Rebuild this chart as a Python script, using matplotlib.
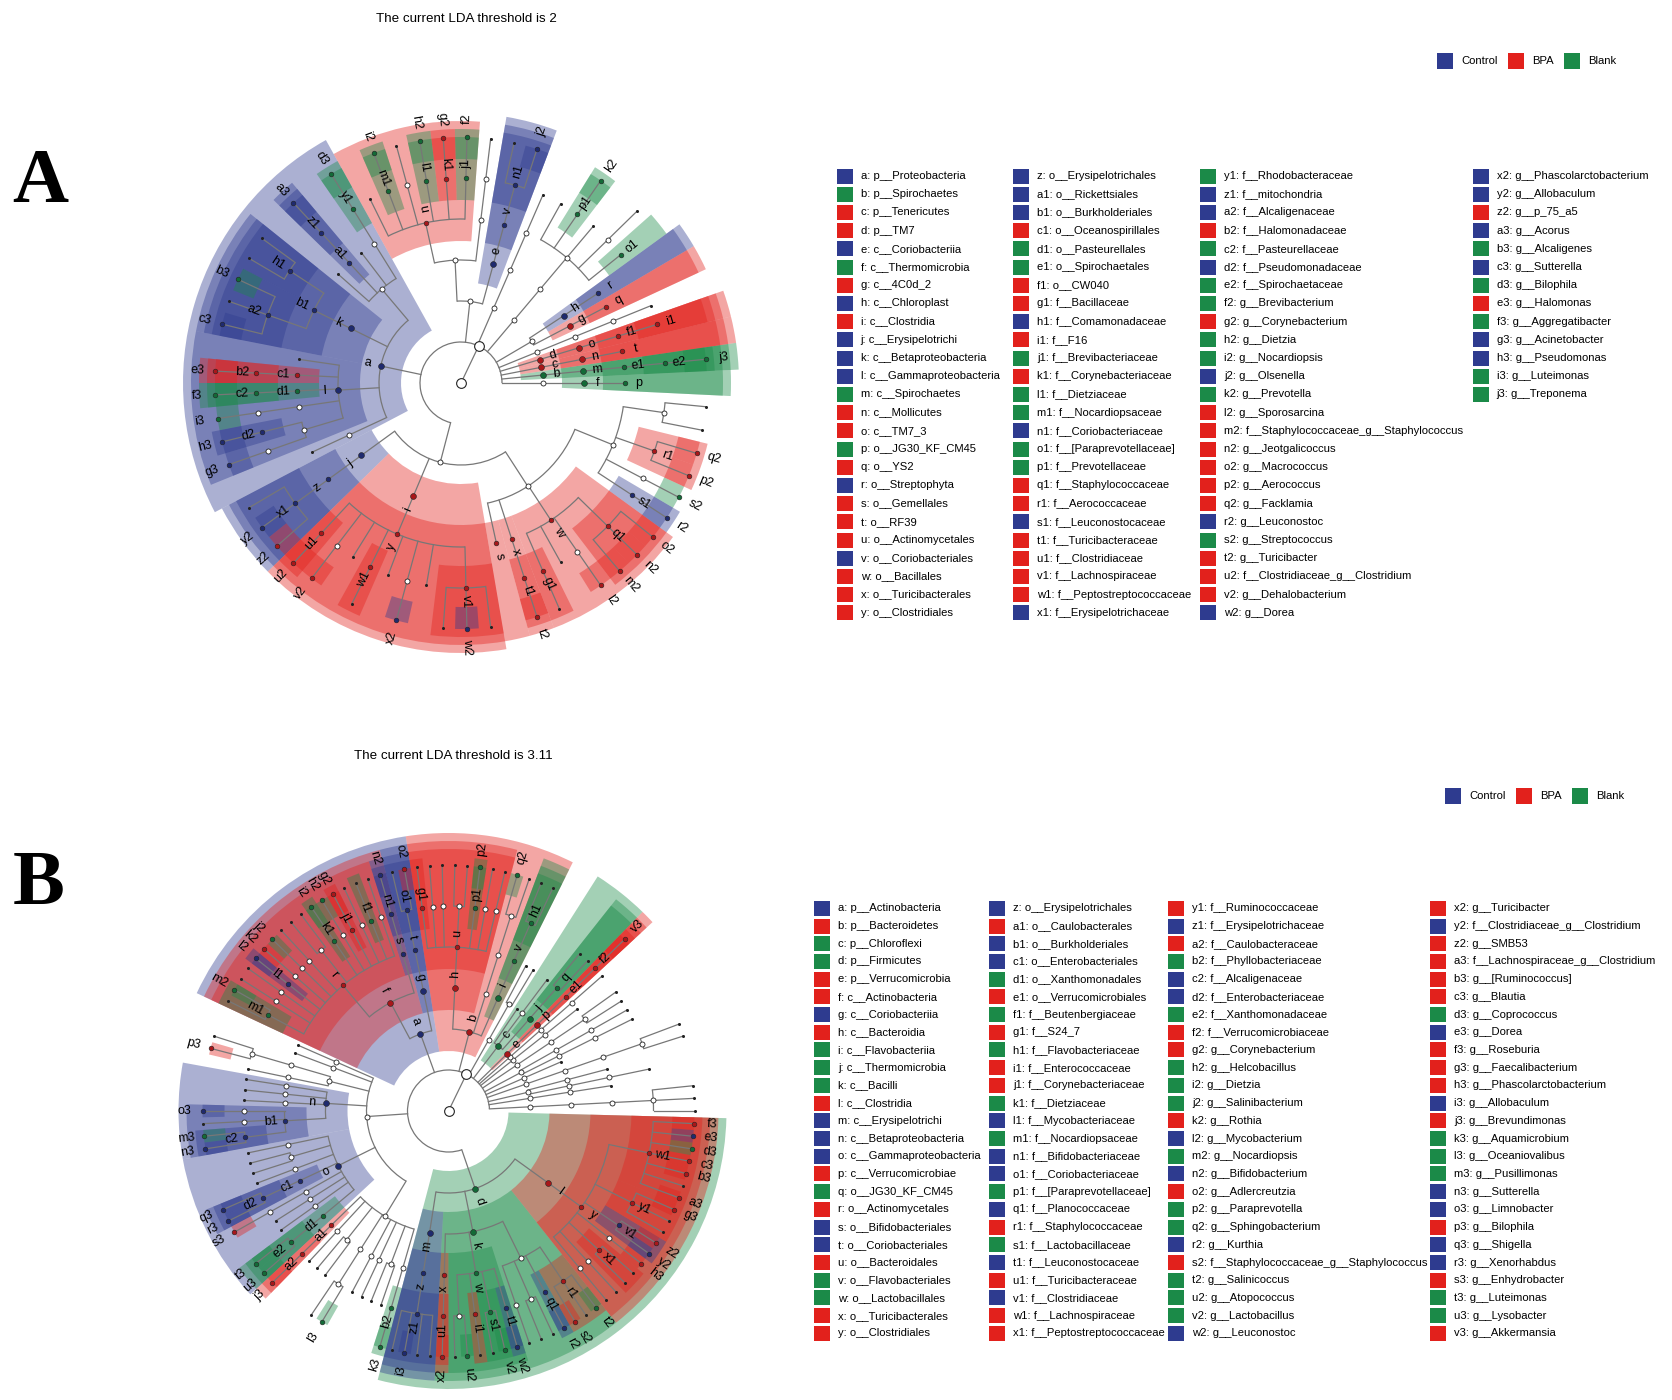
import re
import numpy as np
import matplotlib
matplotlib.use('Agg')
import matplotlib.pyplot as plt
from matplotlib.patches import Wedge, Arc, Rectangle

plt.rcParams['font.family'] = ['Liberation Sans', 'DejaVu Sans']

group_colors = {'C': '#2e3b8f', 'B': '#e2211c', 'G': '#1b8a48'}
node_colors = {'C': '#1f2a6e', 'B': '#a8171a', 'G': '#136a37'}
group_order = ['C', 'B', 'G']
group_names = ['Control', 'BPA', 'Blank']
LINE = '#777777'

# ---------------- panel A ----------------
title_a = 'The current LDA threshold is 2'
legend_a = [
    'a: p__Proteobacteria', 'b: p__Spirochaetes', 'c: p__Tenericutes', 'd: p__TM7',
    'e: c__Coriobacteriia', 'f: c__Thermomicrobia', 'g: c__4C0d_2', 'h: c__Chloroplast',
    'i: c__Clostridia', 'j: c__Erysipelotrichi', 'k: c__Betaproteobacteria',
    'l: c__Gammaproteobacteria', 'm: c__Spirochaetes', 'n: c__Mollicutes', 'o: c__TM7_3',
    'p: o__JG30_KF_CM45', 'q: o__YS2', 'r: o__Streptophyta', 's: o__Gemellales',
    't: o__RF39', 'u: o__Actinomycetales', 'v: o__Coriobacteriales', 'w: o__Bacillales',
    'x: o__Turicibacterales', 'y: o__Clostridiales',
    'z: o__Erysipelotrichales', 'a1: o__Rickettsiales', 'b1: o__Burkholderiales',
    'c1: o__Oceanospirillales', 'd1: o__Pasteurellales', 'e1: o__Spirochaetales',
    'f1: o__CW040', 'g1: f__Bacillaceae', 'h1: f__Comamonadaceae', 'i1: f__F16',
    'j1: f__Brevibacteriaceae', 'k1: f__Corynebacteriaceae', 'l1: f__Dietziaceae',
    'm1: f__Nocardiopsaceae', 'n1: f__Coriobacteriaceae', 'o1: f__[Paraprevotellaceae]',
    'p1: f__Prevotellaceae', 'q1: f__Staphylococcaceae', 'r1: f__Aerococcaceae',
    's1: f__Leuconostocaceae', 't1: f__Turicibacteraceae', 'u1: f__Clostridiaceae',
    'v1: f__Lachnospiraceae', 'w1: f__Peptostreptococcaceae', 'x1: f__Erysipelotrichaceae',
    'y1: f__Rhodobacteraceae', 'z1: f__mitochondria', 'a2: f__Alcaligenaceae',
    'b2: f__Halomonadaceae', 'c2: f__Pasteurellaceae', 'd2: f__Pseudomonadaceae',
    'e2: f__Spirochaetaceae', 'f2: g__Brevibacterium', 'g2: g__Corynebacterium',
    'h2: g__Dietzia', 'i2: g__Nocardiopsis', 'j2: g__Olsenella', 'k2: g__Prevotella',
    'l2: g__Sporosarcina', 'm2: f__Staphylococcaceae_g__Staphylococcus',
    'n2: g__Jeotgalicoccus', 'o2: g__Macrococcus', 'p2: g__Aerococcus', 'q2: g__Facklamia',
    'r2: g__Leuconostoc', 's2: g__Streptococcus', 't2: g__Turicibacter',
    'u2: f__Clostridiaceae_g__Clostridium', 'v2: g__Dehalobacterium', 'w2: g__Dorea',
    'x2: g__Phascolarctobacterium', 'y2: g__Allobaculum', 'z2: g__p_75_a5', 'a3: g__Acorus',
    'b3: g__Alcaligenes', 'c3: g__Sutterella', 'd3: g__Bilophila', 'e3: g__Halomonas',
    'f3: g__Aggregatibacter', 'g3: g__Acinetobacter', 'h3: g__Pseudomonas',
    'i3: g__Luteimonas', 'j3: g__Treponema',
]
groups_a = ('CGBBCGBCBCCCGBBGBCBBBCBBB' 'CCCBGGBBCBGBGGCGGBBCBBBBC'
            'GCCBGCGGBGGCGBBBBBBCGBBBC' 'CCBCGCGBGCCGG')
cols_a = [25, 25, 25, 13]
# tree, one string per phylum, counter-clockwise from the east
# label = biomarker clade, * = other clade, . = other leaf
tree_a = [
    '*(f(p))',
    'b(m(e1(e2(j3))))',
    'c(n(t))',
    'd(o(f1(i1)))',
    '*(*(*(.)))',
    '*(g(q),h(r))',
    '*(*(*(o1,*(.),.,p1(k2),.)))',
    '*(*(*(.)))',
    '*(e(v(n1(j2,.))),*(*(*(.)),u(j1(f2),k1(g2),l1(h2),*(.),m1(i2),.)))',
    'a(*(*(y1(d3)),.,a1(z1(a3)),.),k(b1(h1(.,.),a2(b3,.,c3))),'
    'l(.,c1(b2(e3)),d1(c2(f3)),*(*(i3)),*(d2(h3),*(g3))),*(.))',
    '*(j(z(x1(.,y2,z2))),i(y(u1(u2),*(v2),.,w1(.),.,*(x2),.,v1(.,w2,.))),'
    '*(s,x(t1(t2)),w(g1(.),.,*(l2),q1(m2,n2,o2)),*(s1(r2),*(s2),r1(p2,q2),*(.,.))))',
]

# ---------------- panel B ----------------
title_b = 'The current LDA threshold is 3.11'
legend_b = [
    'a: p__Actinobacteria', 'b: p__Bacteroidetes', 'c: p__Chloroflexi', 'd: p__Firmicutes',
    'e: p__Verrucomicrobia', 'f: c__Actinobacteria', 'g: c__Coriobacteriia',
    'h: c__Bacteroidia', 'i: c__Flavobacteriia', 'j: c__Thermomicrobia', 'k: c__Bacilli',
    'l: c__Clostridia', 'm: c__Erysipelotrichi', 'n: c__Betaproteobacteria',
    'o: c__Gammaproteobacteria', 'p: c__Verrucomicrobiae', 'q: o__JG30_KF_CM45',
    'r: o__Actinomycetales', 's: o__Bifidobacteriales', 't: o__Coriobacteriales',
    'u: o__Bacteroidales', 'v: o__Flavobacteriales', 'w: o__Lactobacillales',
    'x: o__Turicibacterales', 'y: o__Clostridiales',
    'z: o__Erysipelotrichales', 'a1: o__Caulobacterales', 'b1: o__Burkholderiales',
    'c1: o__Enterobacteriales', 'd1: o__Xanthomonadales', 'e1: o__Verrucomicrobiales',
    'f1: f__Beutenbergiaceae', 'g1: f__S24_7', 'h1: f__Flavobacteriaceae',
    'i1: f__Enterococcaceae', 'j1: f__Corynebacteriaceae', 'k1: f__Dietziaceae',
    'l1: f__Mycobacteriaceae', 'm1: f__Nocardiopsaceae', 'n1: f__Bifidobacteriaceae',
    'o1: f__Coriobacteriaceae', 'p1: f__[Paraprevotellaceae]', 'q1: f__Planococcaceae',
    'r1: f__Staphylococcaceae', 's1: f__Lactobacillaceae', 't1: f__Leuconostocaceae',
    'u1: f__Turicibacteraceae', 'v1: f__Clostridiaceae', 'w1: f__Lachnospiraceae',
    'x1: f__Peptostreptococcaceae',
    'y1: f__Ruminococcaceae', 'z1: f__Erysipelotrichaceae', 'a2: f__Caulobacteraceae',
    'b2: f__Phyllobacteriaceae', 'c2: f__Alcaligenaceae', 'd2: f__Enterobacteriaceae',
    'e2: f__Xanthomonadaceae', 'f2: f__Verrucomicrobiaceae', 'g2: g__Corynebacterium',
    'h2: g__Helcobacillus', 'i2: g__Dietzia', 'j2: g__Salinibacterium', 'k2: g__Rothia',
    'l2: g__Mycobacterium', 'm2: g__Nocardiopsis', 'n2: g__Bifidobacterium',
    'o2: g__Adlercreutzia', 'p2: g__Paraprevotella', 'q2: g__Sphingobacterium',
    'r2: g__Kurthia', 's2: f__Staphylococcaceae_g__Staphylococcus', 't2: g__Salinicoccus',
    'u2: g__Atopococcus', 'v2: g__Lactobacillus', 'w2: g__Leuconostoc',
    'x2: g__Turicibacter', 'y2: f__Clostridiaceae_g__Clostridium', 'z2: g__SMB53',
    'a3: f__Lachnospiraceae_g__Clostridium', 'b3: g__[Ruminococcus]', 'c3: g__Blautia',
    'd3: g__Coprococcus', 'e3: g__Dorea', 'f3: g__Roseburia', 'g3: g__Faecalibacterium',
    'h3: g__Phascolarctobacterium', 'i3: g__Allobaculum', 'j3: g__Brevundimonas',
    'k3: g__Aquamicrobium', 'l3: g__Oceaniovalibus', 'm3: g__Pusillimonas',
    'n3: g__Sutterella', 'o3: g__Limnobacter', 'p3: g__Bilophila', 'q3: g__Shigella',
    'r3: g__Xenorhabdus', 's3: g__Enhydrobacter', 't3: g__Luteimonas',
    'u3: g__Lysobacter', 'v3: g__Akkermansia',
]
groups_b = ('CBGGBBCBGGGBCCCBGBCCBGGBB' 'CBCCGBGBGBBGCGCCGCBGCBCBB'
            'BCBGCCGBBGGGBCGCBGGCBGGGC' 'BCBBBBGCBBBCBGGGCCBCCBGGB')
cols_b = [25, 25, 25, 25]
tree_b = [
    '*(*(*(*(.,.,.))))',
    '*(*(.))',
    '*(*(*(.)),*(.))',
    '*(*(*(*(.,.))))',
    '*(.)',
    '*(*(*(.)),*(*(.)))',
    '*(*(*(.,.)))',
    '*(*(.))',
    '*(*(*(.)))',
    'e(p(e1(f2(v3))))',
    'c(j(q(.,.)),*(.),.)',
    '*(*(.,.))',
    'b(i(v(h1(.,.))),*(*(*(.,q2))),h(u(*(.),*(.),p1(p2),*(.,.),*(.),*(.),g1(.))))',
    'a(g(t(o1(o2,.))),f(s(n1(n2)),r(*(.),f1(.),*(.),j1(g2),*(h2),k1(i2),*(.,.),*(.),'
    '*(j2),*(k2),l1(l2),*(.),*(.),m1(m2,.))))',
    '*(*(.),*(.),*(*(*(.,p3)),*(.)),n(*(.),*(.),*(.),b1(*(o3),*(.),c2(m3,n3))),'
    'o(*(.),*(.,.),*(.),c1(d2(q3,r3)),*(*(s3)),*(.),*(.),d1(e2(t3,u3))),'
    '*(a1(a2(j3)),*(.),*(.,.),*(*(.,l3)),*(.),*(.),*(.,.),*(b2(k3))))',
    'd(m(z(z1(.,i3,.,.))),k(x(u1(x2)),w(*(.,u2),i1(.),s1(.,v2),t1(w2)),'
    '*(*(.),*(.,.),q1(r2),r1(s2,.,t2))),'
    'l(y(*(.),*(.),x1(.,.),*(h3),v1(y2,z2),y1(.,.,g3),w1(a3,.,b3,c3,d3,e3,f3))))',
]

H = 1400
RSTEP = 41
LEG_FS = 8.1


def parse_tree(text):
    s = text.replace(' ', '')
    pos = 0

    def node():
        nonlocal pos
        if s[pos] == '.':
            pos += 1
            return {'label': '', 'kids': []}
        if s[pos] == '*':
            pos += 1
            label = ''
        else:
            label = re.match(r'[a-z][0-9]?', s[pos:]).group(0)
            pos += len(label)
        kids = []
        if pos < len(s) and s[pos] == '(':
            pos += 1
            kids.append(node())
            while s[pos] == ',':
                pos += 1
                kids.append(node())
            pos += 1
        return {'label': label, 'kids': kids}
    return node()


def rad(level):
    return RSTEP * (level + 1)


def draw_cladogram(ax, cx, cy, phyla, legend, groups, start):
    lab_grp = {item.split(':')[0]: g for item, g in zip(legend, groups)}
    king = {'label': '', 'kids': [parse_tree(p) for p in phyla]}
    nodes, leaves = [], []

    def walk(n, level):
        n['level'] = level
        nodes.append(n)
        if not n['kids']:
            leaves.append(n)
        for k in n['kids']:
            walk(k, level + 1)
    walk(king, 0)
    step = 360.0 / len(leaves)
    for i, lf in enumerate(leaves):
        lf['ang'] = start + i * step
        lf['lo'] = lf['hi'] = lf['ang']

    def place(n):
        if n['kids']:
            for k in n['kids']:
                place(k)
            n['ang'] = np.mean([k['ang'] for k in n['kids']])
            n['lo'] = n['kids'][0]['lo']
            n['hi'] = n['kids'][-1]['hi']
    place(king)

    def xy(r, a):
        t = np.radians(a)
        return cx + r * np.cos(t), cy + r * np.sin(t)

    # shaded clades
    marked = [n for n in nodes if n['label']]
    for n in sorted(marked, key=lambda n: n['level']):
        lv = n['level']
        r_in = rad(lv) - 22
        r_out = 286 - 8 * lv
        ax.add_patch(Wedge((cx, cy), r_out, n['lo'] - step / 2, n['hi'] + step / 2,
                           width=r_out - r_in, facecolor=group_colors[lab_grp[n['label']]],
                           alpha=0.4, lw=0, zorder=1))

    # branches
    kx, ky = xy(rad(0), king['ang'])
    ax.plot([cx, kx], [cy, ky], color=LINE, lw=0.9, zorder=2)
    for n in nodes:
        if not n['kids']:
            continue
        r0 = rad(n['level'])
        if len(n['kids']) > 1:
            ax.add_patch(Arc((cx, cy), 2 * r0, 2 * r0, theta1=n['kids'][0]['ang'],
                             theta2=n['kids'][-1]['ang'], color=LINE, lw=0.9, zorder=2))
        for k in n['kids']:
            x0, y0 = xy(r0, k['ang'])
            x1, y1 = xy(rad(k['level']), k['ang'])
            ax.plot([x0, x1], [y0, y1], color=LINE, lw=0.9, zorder=2)

    # nodes
    ax.plot(cx, cy, 'o', ms=7, mfc='white', mec='#222222', mew=0.8, zorder=5)
    ax.plot(kx, ky, 'o', ms=7, mfc='white', mec='#222222', mew=0.8, zorder=5)
    for n in nodes[1:]:
        x, y = xy(rad(n['level']), n['ang'])
        if n['label']:
            ms = 4.2 if n['level'] <= 2 else 3.4
            ax.plot(x, y, 'o', ms=ms, mfc=node_colors[lab_grp[n['label']]], mec='#222222',
                    mew=0.4, zorder=5)
        elif n['kids']:
            ax.plot(x, y, 'o', ms=3.6, mfc='white', mec='#222222', mew=0.6, zorder=5)
        else:
            ax.plot(x, y, 'o', ms=2.2, mfc='#222222', mec='#222222', mew=0, zorder=5)

    # clade letters
    for n in marked:
        a = n['ang'] % 360
        r = 264 if n['level'] == 5 else rad(n['level']) + 14
        x, y = xy(r, a)
        rot = a if (a <= 90 or a >= 270) else a - 180
        ax.text(x, y, n['label'], fontsize=9, rotation=rot, rotation_mode='anchor',
                ha='center', va='center', zorder=6)


def draw_legend(ax, items, groups, sizes, sq_x, top, pitch):
    idx = 0
    for c, n in enumerate(sizes):
        for r in range(n):
            y = H - (top + r * pitch)
            ax.add_patch(Rectangle((sq_x[c], y - 7.5), 16, 15, lw=0,
                                   facecolor=group_colors[groups[idx]]))
            ax.text(sq_x[c] + 24, y, items[idx], fontsize=LEG_FS, ha='left', va='center')
            idx += 1


def draw_header(ax, x0, y_img):
    offs = [0, 71.3, 127.3]
    y = H - y_img
    for g, name, dx in zip(group_order, group_names, offs):
        ax.add_patch(Rectangle((x0 + dx, y - 8), 16, 16, lw=0, facecolor=group_colors[g]))
        ax.text(x0 + dx + 24.5, y, name, fontsize=LEG_FS, ha='left', va='center')


fig = plt.figure(figsize=(16.72, 14), dpi=100)
ax = fig.add_axes([0, 0, 1, 1])
ax.set_xlim(0, 1672)
ax.set_ylim(0, H)
ax.axis('off')

# panel A
ax.text(466, H - 19, title_a, fontsize=9.6, ha='center', va='center')
ax.text(40, H - 184, 'A', fontsize=56, fontweight='bold', family='Liberation Serif',
        ha='center', va='center')
draw_header(ax, 1436.7, 61)
draw_cladogram(ax, 461, H - 383, tree_a, legend_a, groups_a, 0.0)
draw_legend(ax, legend_a, groups_a, cols_a, [836.7, 1013, 1200, 1472.7], 176, 18.2)

# panel B
ax.text(453, H - 756, title_b, fontsize=9.6, ha='center', va='center')
ax.text(39, H - 886, 'B', fontsize=56, fontweight='bold', family='Liberation Serif',
        ha='center', va='center')
draw_header(ax, 1444.5, 796)
draw_cladogram(ax, 448.5, H - 1111, tree_b, legend_b, groups_b, 0.0)
draw_legend(ax, legend_b, groups_b, cols_b, [814, 989.3, 1168.3, 1430], 908.3, 17.71)

fig.savefig('out.png', dpi=100)
